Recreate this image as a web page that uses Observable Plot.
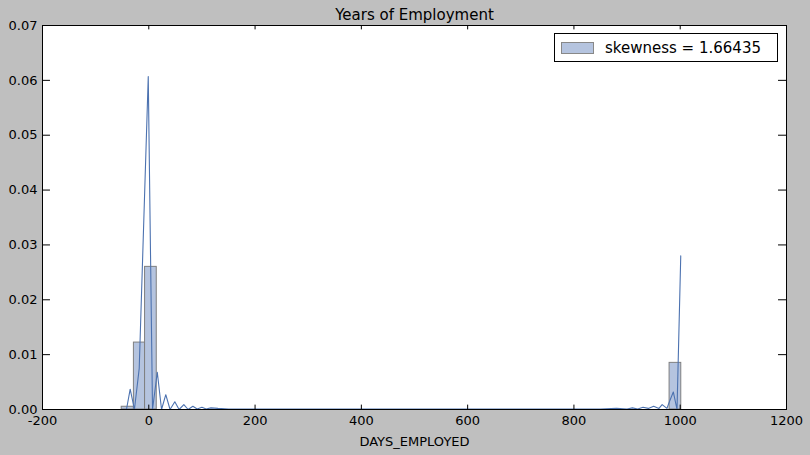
<!DOCTYPE html>
<html>
<head>
<meta charset="utf-8">
<script src="https://cdn.jsdelivr.net/npm/d3@7"></script>
<script src="https://cdn.jsdelivr.net/npm/@observablehq/plot@0.6"></script>
<style>
  body { margin: 0; background: #bfbfbf; font-family: "DejaVu Sans", sans-serif; }
  #wrap { position: relative; width: 810px; height: 455px; }
  #legend { position: absolute; left: 554px; top: 33px; width: 222px; height: 27px;
    background: white; border: 1px solid black; font-size: 15px; display: flex; align-items: center; }
  #legend .sw { width: 31px; height: 10px; background: #b5c4df; border: 1px solid #888; margin: 0 11px 0 6px; }
</style>
</head>
<body>
<div id="wrap"><div id="chart"></div>
  <div id="legend"><span class="sw"></span>skewness = 1.66435</div>
</div>
<script>
// histogram bins (edges) and densities
const binStart = [-51, -28, -7, 980]
const binEnd = [-28, -7, 15, 1002]
const binDensity = [0.0005, 0.0122, 0.026, 0.0085]

// kde line
const kdeX = [-42, -35, -27, -18, -1, 7, 16, 24, 32, 40, 49, 57, 66, 74, 83, 91, 100, 108, 117, 130, 150, 200, 300, 500, 700, 850, 880, 900, 910, 920, 930, 940, 950, 960, 966, 975, 980, 987, 994, 1001]
const kdeY = [0, 0.0037, 0, 0.0075, 0.0607, 0, 0.0068, 0, 0.0027, 0, 0.0014, 0, 0.0009, 0, 0.0006, 0.0001, 0.0004, 0.0001, 0.0003, 0.0002, 0.0001, 0.0001, 0.0001, 0.0001, 0.0001, 0.0001, 0.0002, 0.0001, 0.0003, 0.0001, 0.0004, 0.0002, 0.0006, 0.0002, 0.0009, 0.0002, 0.0015, 0.0032, 0, 0.028]

const xTicks = d3.range(-200, 1201, 200)
const yTicks = d3.range(0, 0.0701, 0.01)

const bins = binStart.map((s, i) => ({x1: s, x2: binEnd[i], y: binDensity[i]}))
const kde = kdeX.map((x, i) => ({x, y: kdeY[i]}))

const chart = Plot.plot({
  width: 810,
  height: 455,
  marginLeft: 42, marginRight: 24, marginTop: 25, marginBottom: 46,
  style: {background: '#bfbfbf', fontSize: '13px', fontFamily: 'DejaVu Sans, sans-serif', color: 'black'},
  x: {domain: [-200, 1200], ticks: xTicks, tickSize: 0, tickPadding: 6, tickFormat: d => String(d), label: 'DAYS_EMPLOYED', labelArrow: 'none', labelAnchor: 'center', labelOffset: 36},
  y: {domain: [0, 0.07], ticks: yTicks, tickSize: 0, tickPadding: 5, tickFormat: d3.format('.2f'), label: null},
  marks: [
    Plot.frame({fill: 'white'}),
    Plot.rectY(bins, {x1: 'x1', x2: 'x2', y: 'y', fill: '#b5c4df', stroke: '#7f7f7f', strokeWidth: 1}),
    Plot.line(kde, {x: 'x', y: 'y', stroke: '#4c72b0', strokeWidth: 1.1}),
    // inward ticks on all sides
    Plot.ruleX(xTicks, {y1: 0, y2: 0.0008, stroke: 'black'}),
    Plot.ruleX(xTicks, {y1: 0.07, y2: 0.0692, stroke: 'black'}),
    Plot.ruleY(yTicks, {x1: -200, x2: -185, stroke: 'black'}),
    Plot.ruleY(yTicks, {x1: 1200, x2: 1185, stroke: 'black'}),
    Plot.frame({stroke: 'black'}),
    Plot.text(['Years of Employment'], {frameAnchor: 'top', dy: -16, fontSize: 15})
  ]
})

d3.select('#chart').append(() => chart)
</script>
</body>
</html>
